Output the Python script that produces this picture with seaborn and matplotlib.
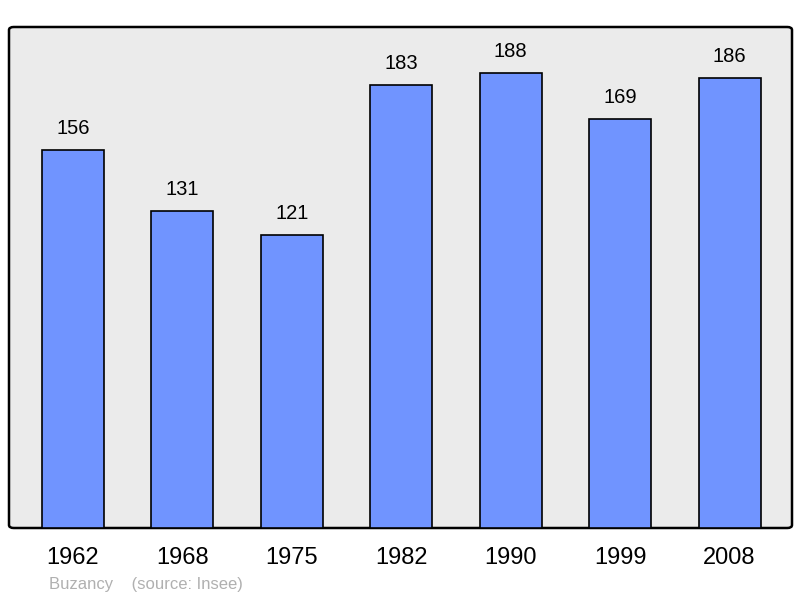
import pandas as pd
import seaborn as sns
import matplotlib.pyplot as plt
from matplotlib.patches import FancyBboxPatch

years = ['1962', '1968', '1975', '1982', '1990', '1999', '2008']
population = [156, 131, 121, 183, 188, 169, 186]

df = pd.DataFrame({'year': years, 'pop': population})

sns.set_style('white')
plt.rcParams['font.family'] = ['Liberation Sans', 'DejaVu Sans']
plt.rcParams['text.color'] = 'black'
plt.rcParams['xtick.color'] = 'black'

fig = plt.figure(figsize=(8, 5.98), dpi=100)
ax = fig.add_axes([9 / 800, 1 - 528 / 598, 783 / 800, 501 / 598])

sns.barplot(data=df, x='year', y='pop', color='#7094FF', saturation=1,
            edgecolor='black', linewidth=1.2, width=0.567, ax=ax)

for i, v in enumerate(population):
    ax.text(i, v + 5, str(v), ha='center', va='bottom', fontsize=14.5, color='black')

ax.set_xlim(-0.585, 6.57)
ax.set_ylim(0, 207)
ax.set_facecolor('none')
for s in ax.spines.values():
    s.set_visible(False)
ax.set_yticks([])
ax.set_xlabel('')
ax.set_ylabel('')
ax.tick_params(axis='x', length=0, labelsize=17, pad=14, labelcolor='black')

# rounded frame behind the bars
frame = FancyBboxPatch((0, 0), 1, 1, boxstyle='round,pad=0,rounding_size=0.006',
                       transform=ax.transAxes, facecolor='#EBEBEB',
                       edgecolor='black', linewidth=1.8, zorder=0, clip_on=False)
ax.add_patch(frame)

fig.text(49 / 800, 1 - 584 / 598, 'Buzancy    (source: Insee)', color='#B0B0B0',
         fontsize=12, va='center', ha='left')

fig.savefig('out.png', dpi=100)
